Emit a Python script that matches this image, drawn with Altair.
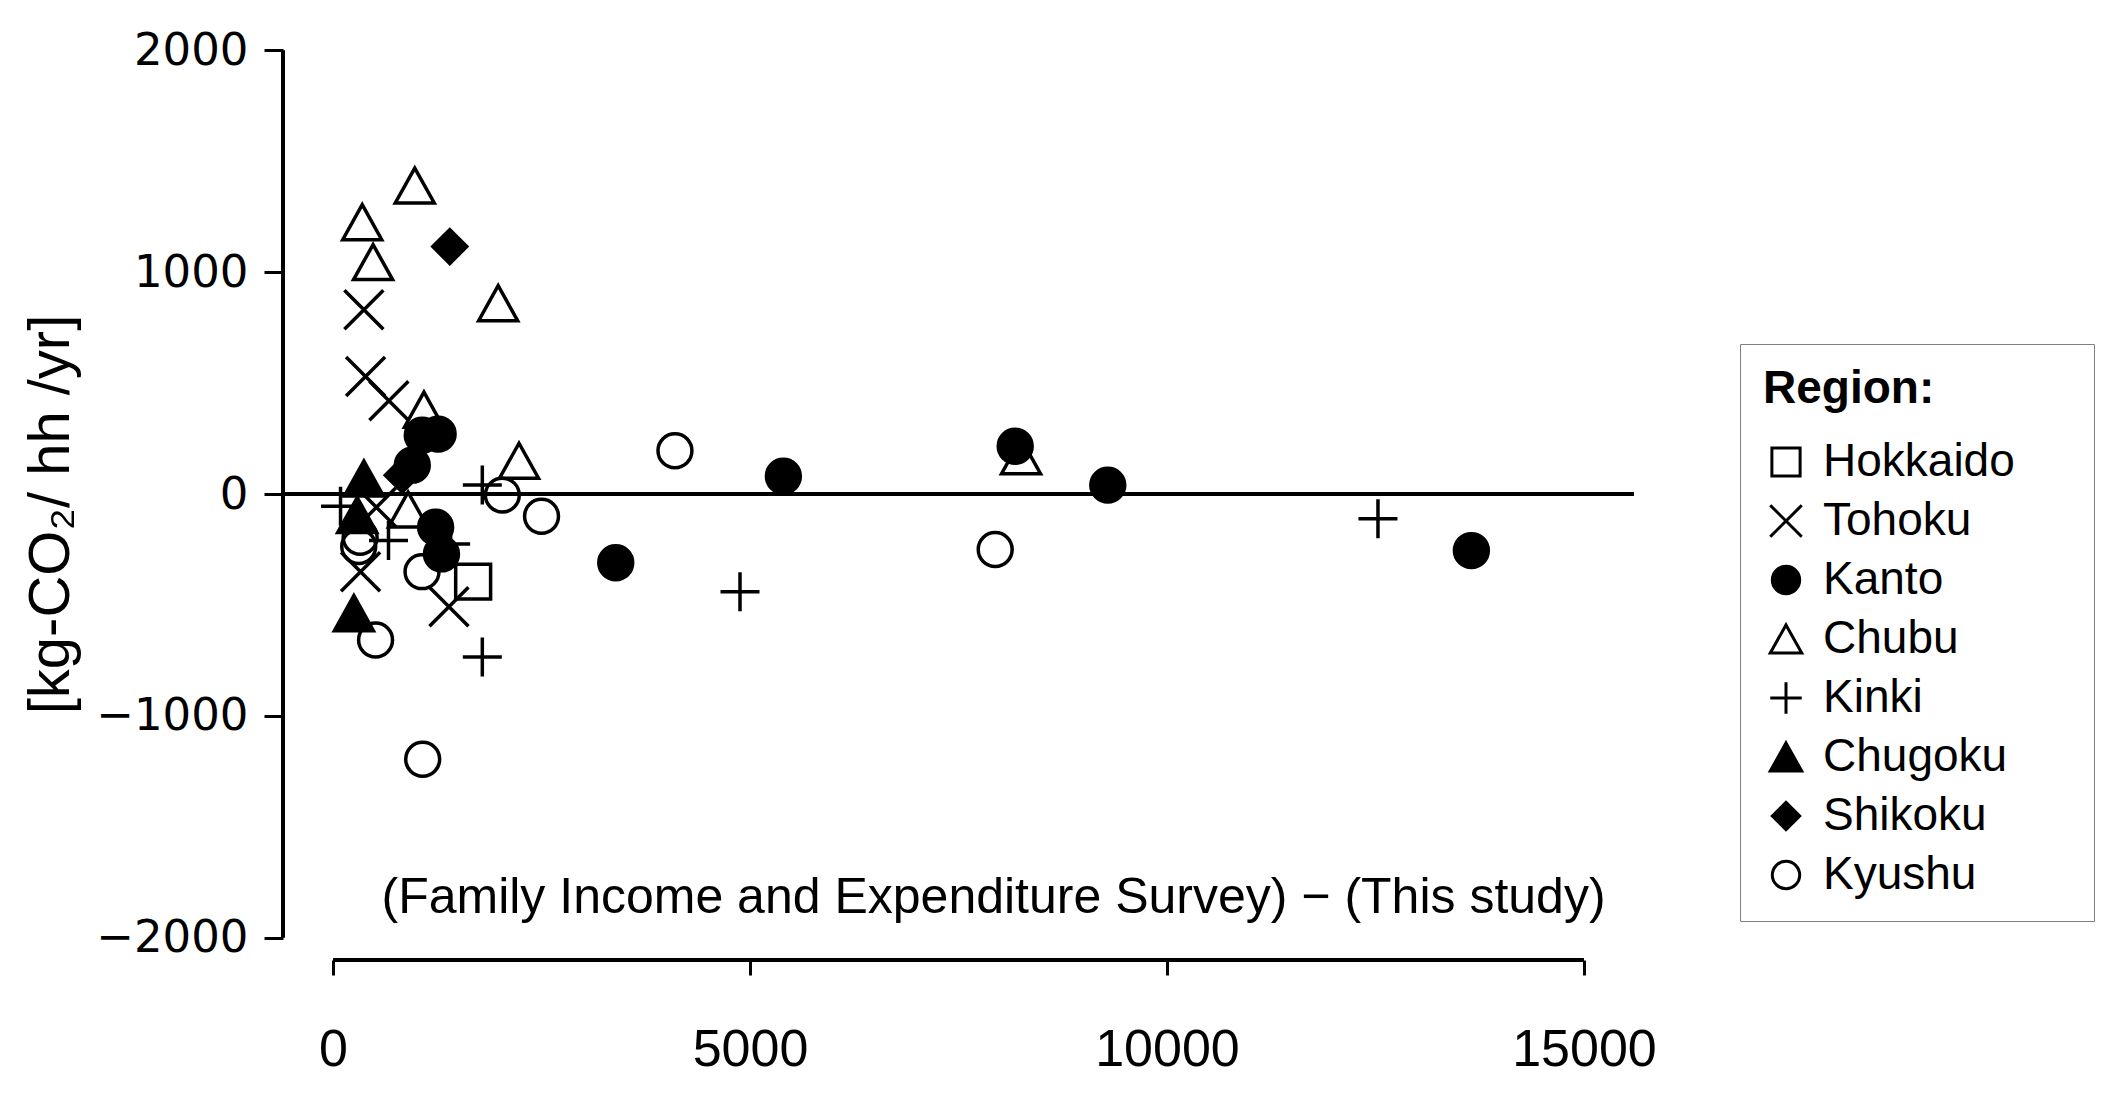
import altair as alt
import pandas as pd

regions = ["Hokkaido", "Tohoku", "Kanto", "Chubu", "Kinki", "Chugoku", "Shikoku", "Kyushu"]

hokkaido_x = [1680]
hokkaido_y = [-395]
tohoku_x = [370, 390, 670, 520, 330, 1390]
tohoku_y = [830, 530, 420, -60, -350, -508]
kanto_x = [1070, 1260, 950, 1230, 1300, 3390, 5400, 8180, 9290, 13650]
kanto_y = [265, 270, 130, -150, -270, -310, 80, 215, 40, -255]
chubu_x = [980, 350, 480, 1980, 1090, 2230, 8250, 900]
chubu_y = [1390, 1225, 1045, 860, 380, 150, 170, -70]
kinki_x = [1790, 90, 665, 1410, 1790, 4880, 12530]
kinki_y = [40, -55, -210, -225, -735, -440, -112]
chugoku_x = [370, 290, 250]
chugoku_y = [70, -95, -537]
shikoku_x = [1400, 830]
shikoku_y = [1115, 85]
kyushu_x = [4100, 2030, 2500, 7940, 1075, 510, 325, 308, 1067]
kyushu_y = [195, -5, -100, -250, -1195, -658, -195, -237, -350]

x_ticks = [0, 5000, 10000, 15000]
y_ticks = [-2000, -1000, 0, 1000, 2000]
x_domain = [-600, 15600]
y_domain = [-2100, 2100]

y_title = "[kg-CO\u2082/ hh /yr]"
note = "(Family Income and Expenditure Survey) \u2212 (This study)"
note_x = [7920]
note_y = [-1820]

series = [
    ("Hokkaido", hokkaido_x, hokkaido_y),
    ("Tohoku", tohoku_x, tohoku_y),
    ("Kanto", kanto_x, kanto_y),
    ("Chubu", chubu_x, chubu_y),
    ("Kinki", kinki_x, kinki_y),
    ("Chugoku", chugoku_x, chugoku_y),
    ("Shikoku", shikoku_x, shikoku_y),
    ("Kyushu", kyushu_x, kyushu_y),
]
rows = []
for name, xs, ys in series:
    for a, b in zip(xs, ys):
        rows.append({"region": name, "x": a, "y": b})
df = pd.DataFrame(rows)

SQ = "M-1.03,-1.03L1.03,-1.03L1.03,1.03L-1.03,1.03Z"
XX = "M-1.15,-1.15L1.15,1.15M-1.15,1.15L1.15,-1.15"
TRI = "M0,-1.03L1.15,1.03L-1.15,1.03Z"
PLUS = "M-1.15,0L1.15,0M0,-1.15L0,1.15"
shapes = [SQ, XX, "circle", TRI, PLUS, TRI, "diamond", "circle"]
fills = ["transparent", "transparent", "black", "transparent", "transparent", "black", "black", "transparent"]
strokes = ["black"] * 8

legend = alt.Legend(
    title="Region:" + "\u2800" * 4,
    orient="none", legendX=1457, legendY=316,
    padding=23, strokeColor="#808080", fillColor="white",
    titleFont="Liberation Sans", titleFontSize=46, titleFontWeight="bold", titleColor="black",
    titlePadding=26, titleLimit=600,
    labelFont="Liberation Sans", labelFontSize=46, labelColor="black", labelLimit=600,
    symbolSize=750, symbolStrokeWidth=3,
    rowPadding=13, labelOffset=14,
)

xscale = alt.Scale(domain=x_domain, nice=False, zero=False)
yscale = alt.Scale(domain=y_domain, nice=False, zero=False)

xaxis = alt.Axis(
    values=x_ticks, domain=False, grid=False, ticks=True, tickSize=15, tickWidth=3, tickColor="black",
    labelFont="Liberation Sans", labelFontSize=52, labelColor="black", labelPadding=49,
    labelFlush=False, title=None, format="d")
yaxis = alt.Axis(
    values=y_ticks, domain=False, grid=False, ticks=True, tickSize=19, tickWidth=3, tickColor="black",
    labelFont="DejaVu Sans", labelFontSize=45, labelColor="black", labelPadding=16, format="d",
    title=y_title, titleFont="Liberation Sans", titleFontSize=58, titleFontWeight="normal",
    titleColor="black", titlePadding=15, titleY=486)

X = lambda: alt.X("x:Q", scale=xscale, axis=xaxis, title=None)
Y = lambda: alt.Y("y:Q", scale=yscale, axis=yaxis, title=y_title)

points = alt.Chart(df).mark_point(filled=False, opacity=1, size=1150, strokeWidth=3.5).encode(
    x=X(), y=Y(),
    shape=alt.Shape("region:N", scale=alt.Scale(domain=regions, range=shapes), legend=legend),
    fill=alt.Fill("region:N", scale=alt.Scale(domain=regions, range=fills), legend=legend),
    stroke=alt.Stroke("region:N", scale=alt.Scale(domain=regions, range=strokes), legend=legend),
)

zero = alt.Chart(pd.DataFrame({"y": [0]})).mark_rule(color="black", strokeWidth=4).encode(y=Y())

yline = alt.Chart(pd.DataFrame({"x": [x_domain[0]], "y": [y_ticks[0]], "y2": [y_ticks[-1]]})).mark_rule(
    color="black", strokeWidth=4).encode(x=X(), y=Y(), y2="y2:Q")

xline = alt.Chart(pd.DataFrame({"y": [y_domain[0]], "x": [x_ticks[0]], "x2": [x_ticks[-1]]})).mark_rule(
    color="black", strokeWidth=4).encode(y=Y(), x=X(), x2="x2:Q")

text = alt.Chart(pd.DataFrame({"x": note_x, "y": note_y, "t": [note]})).mark_text(
    font="Liberation Sans", fontSize=50, color="black", align="center", baseline="middle").encode(
    x=X(), y=Y(), text="t:N")

chart = alt.layer(zero, yline, xline, points, text).properties(
    width=1351, height=932,
    autosize=alt.AutoSizeParams(type="none"),
    padding={"left": 275, "top": 20, "right": 470, "bottom": 120},
    background="white",
).configure_view(stroke=None)

chart.save("out.html", embed_options={"renderer": "svg", "actions": False})
